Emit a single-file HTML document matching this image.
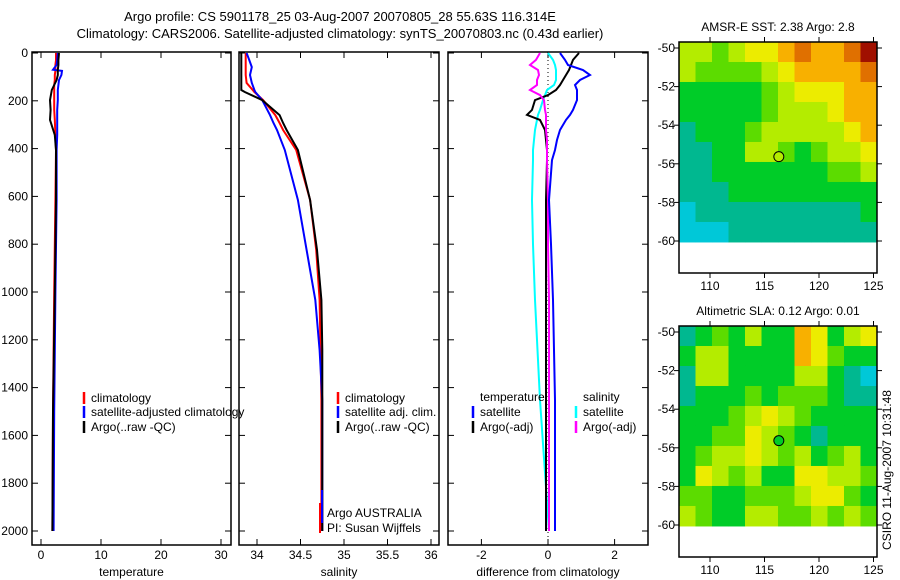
<!DOCTYPE html>
<html><head><meta charset="utf-8"><style>
body{margin:0;background:#fff}
svg{display:block;font-family:"Liberation Sans",sans-serif;font-size:12px}
</style></head><body>
<svg id="fig" width="900" height="580" viewBox="0 0 900 580" xmlns="http://www.w3.org/2000/svg">
<text x="340" y="21" text-anchor="middle" font-size="13">Argo profile: CS 5901178_25 03-Aug-2007 20070805_28 55.63S 116.314E</text>
<text x="340" y="38" text-anchor="middle" font-size="13">Climatology: CARS2006. Satellite-adjusted climatology: synTS_20070803.nc (0.43d earlier)</text>
<g id="g"></g>
</svg>
<script>
// ---- data ----
const tDepth=[0,30,50,70,75,92,113,134,155,197,238,280,343,406,615,1000,1500,2000];
const tClim=[2.5,2.5,2.4,2.4,2.4,2.3,2.3,2.2,2.2,2.2,2.2,2.3,2.4,2.5,2.4,2.2,2.0,1.9];
const tSat=[2.8,2.7,2.6,2.0,3.5,3.4,3.0,2.9,2.8,2.8,2.7,2.7,2.7,2.6,2.6,2.4,2.2,2.1];
const tArgo=[3.0,2.9,2.9,2.8,2.8,2.8,2.6,2.2,1.8,1.5,1.6,1.5,2.3,2.5,2.5,2.3,2.0,1.9];
const sDepth=[0,29,59,92,125,155,163,197,260,293,322,406,615,824,1033,1243,1452,2000];
const sClim=[33.87,33.87,33.87,33.87,33.88,33.95,33.97,34.07,34.21,34.26,34.30,34.45,34.61,34.68,34.72,34.73,34.74,34.74];
const sSat=[33.88,33.91,33.94,33.92,33.94,33.97,33.98,34.06,34.15,34.19,34.23,34.32,34.47,34.57,34.67,34.72,34.75,34.75];
const sArgo=[33.82,33.82,33.82,33.82,33.82,33.82,33.86,34.06,34.26,34.30,34.34,34.47,34.61,34.69,34.74,34.75,34.75,34.75];
const dDepth=[0,29,50,71,92,113,134,155,176,197,238,259,280,322,364,406,448,615,800,1033,1452,2000];
const dTSat=[0.36,0.51,0.6,1.05,1.26,0.96,0.81,0.87,0.87,0.87,0.75,0.66,0.54,0.36,0.27,0.21,0.12,0.03,0.09,0.15,0.21,0.21];
const dTArgo=[0.93,0.75,0.69,0.63,0.54,0.45,0.36,0.24,0,-0.39,-0.48,-0.63,-0.24,-0.09,-0.06,-0.03,-0.03,-0.06,-0.06,-0.06,-0.06,-0.06];
const dSArgo=[-0.24,-0.36,-0.54,-0.3,-0.27,-0.33,-0.33,-0.54,-0.24,-0.12,-0.09,-0.06,-0.06,-0.06,-0.03,-0.03,-0.03,0,0,0.03,0.03,0.03];
const dSSat=[0,0.15,0.21,0.24,0.24,0.24,0.18,-0.03,-0.09,-0.15,-0.24,-0.3,-0.33,-0.39,-0.42,-0.45,-0.45,-0.48,-0.45,-0.39,-0.24,0.03];
const depthTicks=[0,200,400,600,800,1000,1200,1400,1600,1800,2000];
const tempTicks=[0,10,20,30];
const salTicks=[34,34.5,35,35.5,36];
const salTickLabels=["34","34.5","35","35.5","36"];
const diffTicks=[-2,0,2];
const latTicks=[-50,-52,-54,-56,-58,-60];
const lonTicks=[110,115,120,125];
const palette=["#00c8d8","#00b890","#00cc28","#5cdc00","#b4ec00","#ecec00","#f8b000","#e07000","#a01000"];
const sstGrid=[
[4,4,3,4,5,5,6,7,6,6,7,8],[4,3,3,3,3,4,5,6,6,6,6,7],[2,2,2,2,2,3,4,5,5,5,6,6],
[2,2,2,2,2,3,4,4,4,5,6,6],[1,2,2,2,3,4,4,4,4,4,5,6],[1,1,2,2,4,4,3,2,3,4,4,5],
[1,1,2,2,2,2,2,2,2,3,3,4],[1,1,1,2,2,2,2,2,2,2,2,2],[0,1,1,1,1,1,1,1,1,1,1,2],[0,0,0,1,1,1,1,1,1,1,1,1]];
const slaGrid=[
[1,2,3,2,4,2,2,6,5,2,4,5],[2,4,4,2,2,2,2,6,5,3,2,2],[1,4,4,2,2,2,2,4,4,2,1,0],
[1,2,2,2,3,2,3,3,3,2,1,1],[2,2,2,3,4,5,4,3,2,2,2,2],[2,2,3,3,5,4,3,2,1,2,2,2],
[2,3,4,4,5,4,3,4,2,3,4,2],[2,5,4,3,4,2,2,5,5,4,4,3],[3,3,2,2,3,3,3,4,5,5,3,2],[4,3,2,2,4,4,3,3,4,3,4,3]];
const argoLon=116.314, argoLat=-55.63;

const NS="http://www.w3.org/2000/svg";const G=document.getElementById('g');
function mk(t,a,p){const e=document.createElementNS(NS,t);for(const k in a)e.setAttribute(k,a[k]);(p||G).appendChild(e);return e;}
const yD=d=>53+d*0.239;
const TOP=52,BOT=545;
function panel(x0,x1,fx,ticks,labels,xlabel,name,leftLabels){
  const r=mk('rect',{x:x0,y:TOP,width:x1-x0,height:BOT-TOP,fill:'none',stroke:'#000','stroke-width':1.5});
  
  
  ticks.forEach((v,i)=>{const x=fx(v);
    mk('line',{x1:x,x2:x,y1:TOP,y2:TOP+6,stroke:'#000'});mk('line',{x1:x,x2:x,y1:BOT,y2:BOT-6,stroke:'#000'});
    const t=mk('text',{x:x,y:BOT+14,'text-anchor':'middle'});t.textContent=labels[i];
    
    });
  depthTicks.forEach(d=>{const y=yD(d);
    mk('line',{x1:x0,x2:x0+6,y1:y,y2:y,stroke:'#000'});mk('line',{x1:x1,x2:x1-6,y1:y,y2:y,stroke:'#000'});
    if(leftLabels){const t=mk('text',{x:x0-4,y:y+4,'text-anchor':'end'});t.textContent=d;
      
      }});
  const xl=mk('text',{x:(x0+x1)/2,y:BOT+31,'text-anchor':'middle'});xl.textContent=xlabel;
  
  
}
function line(depths,vals,fx,color,name,w){
  const p=depths.map((d,i)=>fx(vals[i]).toFixed(1)+','+yD(d).toFixed(1)).join(' ');
  const e=mk('polyline',{points:p,fill:'none',stroke:color,'stroke-width':w||2});
  
  
}
function legend(x,y,color,label,name){
  mk('line',{x1:x,x2:x,y1:y-10,y2:y+2,stroke:color,'stroke-width':2.5});
  const t=mk('text',{x:x+7,y:y});t.textContent=label;
  
  
}
// temperature panel
const fT=v=>41+6*v;
panel(32,231,fT,tempTicks,tempTicks.map(String),'temperature','temperature-panel',true);
line(tDepth,tClim,fT,'#f00','temp-climatology-line');
line(tDepth,tSat,fT,'#00f','temp-satellite-line');
line(tDepth,tArgo,fT,'#000','temp-argo-line');
legend(84,402,'#f00','climatology','temp-legend-climatology');
legend(84,416,'#00f','satellite-adjusted climatology','temp-legend-satellite');
legend(84,431,'#000','Argo(..raw -QC)','temp-legend-argo');
// salinity panel
const fS=v=>257+87*(v-34);
panel(239,439,fS,salTicks,salTickLabels,'salinity','salinity-panel',false);
line(sDepth,sClim,fS,'#f00','sal-climatology-line');
line(sDepth,sSat,fS,'#00f','sal-satellite-line');
line(sDepth,sArgo,fS,'#000','sal-argo-line');
legend(338,402,'#f00','climatology','sal-legend-climatology');
legend(338,416,'#00f','satellite adj. clim.','sal-legend-satellite');
legend(338,431,'#000','Argo(..raw -QC)','sal-legend-argo');
mk('line',{x1:320,x2:320,y1:503,y2:533,stroke:'#f00','stroke-width':2});
mk('line',{x1:322,x2:322,y1:490,y2:523,stroke:'#00f','stroke-width':2});
const a1=mk('text',{x:327,y:517});a1.textContent='Argo AUSTRALIA';
const a2=mk('text',{x:327,y:532});a2.textContent='PI: Susan Wijffels';
// difference panel
const fD=v=>548+33.3*v;
panel(448,648,fD,diffTicks,diffTicks.map(String),'difference from climatology','difference-panel',false);
mk('line',{x1:548,x2:548,y1:60,y2:545,stroke:'#000','stroke-dasharray':'1,3'});
line(dDepth,dSSat,fD,'#0ff','sal-diff-satellite-line');
line(dDepth,dTArgo,fD,'#000','temp-diff-argo-line');
line(dDepth,dSArgo,fD,'#f0f','sal-diff-argo-line');
line(dDepth,dTSat,fD,'#00f','temp-diff-satellite-line');
const lt=mk('text',{x:480,y:401});lt.textContent='temperature';
const ls=mk('text',{x:583,y:401});ls.textContent='salinity';
legend(473,416,'#00f','satellite','diff-legend-temp-satellite');
legend(473,431,'#000','Argo(-adj)','diff-legend-temp-argo');
legend(576,416,'#0ff','satellite','diff-legend-sal-satellite');
legend(576,431,'#f0f','Argo(-adj)','diff-legend-sal-argo');
// maps
function map(y0,grid,title,name){
  const X0=679,X1=877,yLat=l=>y0+6+(-50-l)*19.3, xLon=l=>710+(l-110)*10.9;
  const yb=yLat(-60.05),cw=(X1-X0)/12,ch=(yb-y0)/10;
  grid.forEach((row,r)=>row.forEach((v,c)=>{
    const e=mk('rect',{x:X0+c*cw,y:y0+r*ch,width:cw+0.5,height:ch+0.5,fill:palette[v]});
    
    }));
  const f=mk('rect',{x:X0,y:y0,width:X1-X0,height:231,fill:'none',stroke:'#000','stroke-width':1.5});
  
  latTicks.forEach(l=>{const y=yLat(l);mk('line',{x1:X0-5,x2:X0,y1:y,y2:y,stroke:'#000'});mk('line',{x1:X1,x2:X1+5,y1:y,y2:y,stroke:'#000'});
    const t=mk('text',{x:X0-4,y:y+4,'text-anchor':'end'});t.textContent=l;});
  lonTicks.forEach(l=>{const x=xLon(l);mk('line',{x1:x,x2:x,y1:y0,y2:y0-5,stroke:'#000'});mk('line',{x1:x,x2:x,y1:y0+231,y2:y0+236,stroke:'#000'});
    const t=mk('text',{x:x,y:y0+248,'text-anchor':'middle'});t.textContent=l;});
  const tt=mk('text',{x:(X0+X1)/2,y:y0-11,'text-anchor':'middle'});tt.textContent=title;
  const d=mk('circle',{cx:xLon(argoLon),cy:yLat(argoLat),r:5,fill:name==='sst-map'?'#b4ec00':'#00cc28',stroke:'#000'});
  
}
map(42,sstGrid,'AMSR-E SST: 2.38 Argo: 2.8','sst-map');
map(326,slaGrid,'Altimetric SLA: 0.12 Argo: 0.01','sla-map');
const cs=mk('text',{x:0,y:0,transform:'translate(891,470) rotate(-90)','text-anchor':'middle'});
cs.textContent='CSIRO 11-Aug-2007 10:31:48';


</script>
</body></html>
